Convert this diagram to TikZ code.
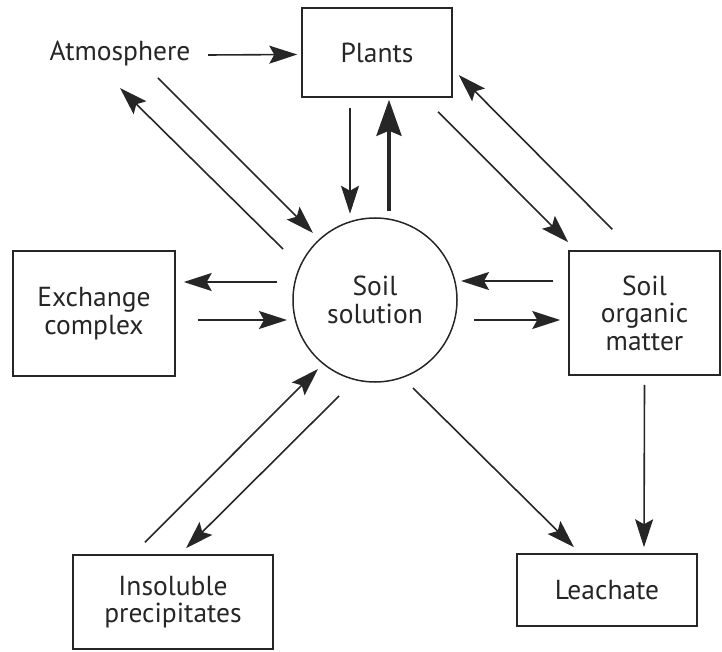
\documentclass[tikz,border=0pt]{standalone}
\usepackage{fontspec}
\setmainfont{PT Sans}
\usepackage{tikz}
\usetikzlibrary{arrows.meta, shapes.geometric, positioning, calc}

\definecolor{inkgray}{HTML}{262626}

\tikzset{
  pool/.style={draw=inkgray,line width=1.5pt,rectangle,align=center,inner sep=0pt},
  flow/.style={->,line width=1.6pt,draw=inkgray},
  bigflow/.style={line width=4.2pt,draw=inkgray,-{Stealth[length=36pt,width=25pt,inset=5pt]}}
}

\begin{document}
\begin{tikzpicture}[x=1pt,y=-1pt,>={Stealth[length=28pt,width=18pt,inset=5pt]},
  every node/.style={text=inkgray,font=\fontsize{27.5}{27.5}\selectfont}]
\useasboundingbox (0,0) rectangle (722,652);
\node (atm) at (120,53) {Atmosphere};
\node[pool,minimum width=150pt,minimum height=89pt] (plants) at (377,52.5) {Plants};
\node[draw=inkgray,line width=1.5pt,circle,minimum size=164pt,inner sep=0pt,align=center] (sol) at (375,300) {Soil\\solution};
\node[pool,minimum width=162pt,minimum height=125pt] (exch) at (94,313.5) {Exchange\\complex};
\node[pool,minimum width=151pt,minimum height=124pt] (som) at (644.5,313) {Soil\\organic\\matter};
\node[pool,minimum width=200pt,minimum height=94pt] (ins) at (173,602) {Insoluble\\precipitates};
\node[pool,minimum width=180pt,minimum height=72pt] (leach) at (607,590) {Leachate};
% atmosphere and plants
\draw[flow] ($(atm.center)+(88,2)$) -- ($(plants.west)+(-4,2)$);
\draw[flow] ($(plants.south)+(-27,10)$) -- ($(plants.south)+(-27,116)$);
\draw[bigflow] ($(sol.north)+(14,-6)$) -- ($(plants.south)+(12,2)$);
\draw[flow] ($(atm.center)+(38,25)$) -- ($(sol.center)+(-62,-67)$);
\draw[flow] ($(sol.center)+(-92,-51)$) -- ($(atm.center)+(0,35)$);
% plants and organic matter
\draw[flow] ($(plants.south)+(61,14)$) -- ($(som.north west)+(0,-8)$);
\draw[flow] ($(som.north west)+(44,-21)$) -- ($(plants.east)+(6,22.5)$);
% exchange complex
\draw[flow] ($(sol.center)+(-98,-18)$) -- ($(exch.east)+(8,-31.5)$);
\draw[flow] ($(exch.east)+(22,6.5)$) -- ($(sol.center)+(-88,20)$);
% organic matter
\draw[flow] ($(som.west)+(-15,-32)$) -- ($(sol.center)+(86,-19)$);
\draw[flow] ($(sol.center)+(99,20)$) -- ($(som.west)+(-8,7)$);
% precipitates
\draw[flow] ($(ins.north)+(-28,-12)$) -- ($(sol.center)+(-57,69)$);
\draw[flow] ($(sol.center)+(-36,96)$) -- ($(ins.north)+(13,-6)$);
% leachate
\draw[flow] ($(sol.center)+(38,88)$) -- ($(leach.north)+(-33,-6)$);
\draw[flow] ($(som.south)+(0,9)$) -- ($(leach.north)+(37,-6)$);
\end{tikzpicture}
\end{document}
